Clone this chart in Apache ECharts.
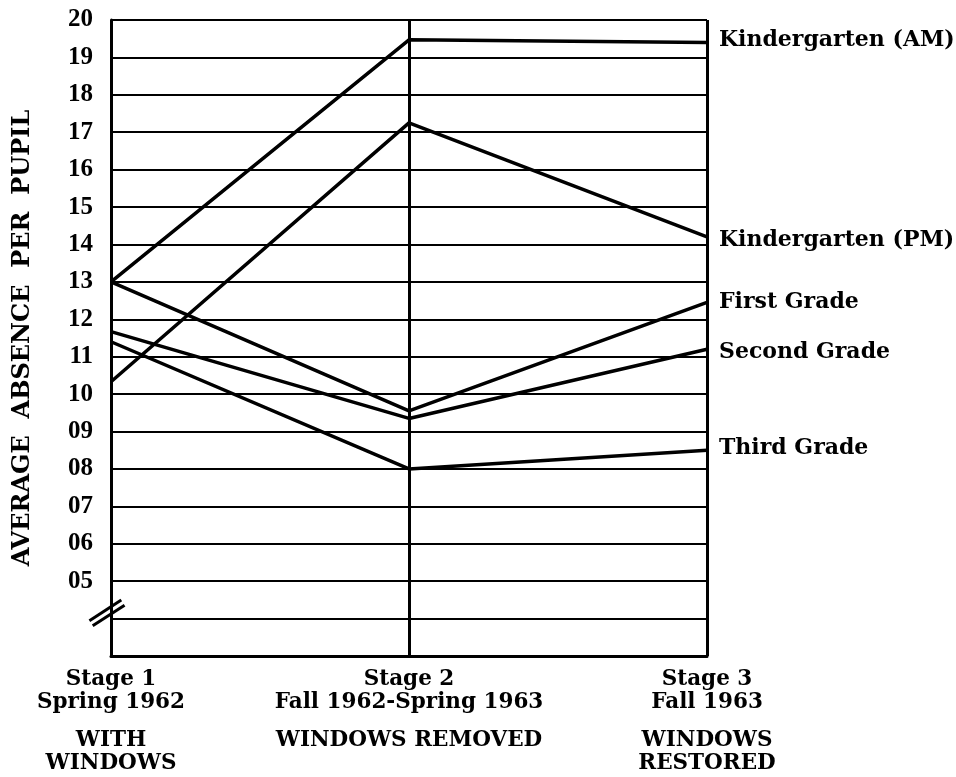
<!DOCTYPE html>
<html>
<head>
<meta charset="utf-8">
<script src="https://cdn.jsdelivr.net/npm/echarts@6/dist/echarts.min.js"></script>
<style>
  html, body { margin: 0; padding: 0; background: #fff; }
  #chart { width: 956px; height: 777px; }
</style>
</head>
<body>
<div id="chart"></div>
<script>
// Stages of the study (x categories) and their caption lines
const stages = ['Stage 1', 'Stage 2', 'Stage 3'];
const periods = ['Spring 1962', 'Fall 1962-Spring 1963', 'Fall 1963'];
const conditions = [['WITH', 'WINDOWS'], ['WINDOWS REMOVED'], ['WINDOWS', 'RESTORED']];

// Average absence per pupil for each class group
const kinderAM = [13.0, 19.47, 19.4];
const kinderPM = [10.33, 17.25, 14.2];
const firstGrade = [13.0, 9.55, 12.45];
const secondGrade = [11.67, 9.35, 11.2];
const thirdGrade = [11.4, 8.0, 8.5];

// Y-axis tick labels (values 5..20), shown zero-padded
const yTickValues = [5, 6, 7, 8, 9, 10, 11, 12, 13, 14, 15, 16, 17, 18, 19, 20];
const yTickLabels = ['05', '06', '07', '08', '09', '10', '11', '12', '13', '14', '15', '16', '17', '18', '19', '20'];

const seriesDefs = [
  { name: 'Kindergarten (AM)', data: kinderAM, dy: -2 },
  { name: 'Kindergarten (PM)', data: kinderPM, dy: 3 },
  { name: 'First Grade', data: firstGrade, dy: 0 },
  { name: 'Second Grade', data: secondGrade, dy: 3 },
  { name: 'Third Grade', data: thirdGrade, dy: -2 }
];

const serif = '"DejaVu Serif", "Liberation Serif", serif';
const ink = '#000';

const chart = echarts.init(document.getElementById('chart'), null, { renderer: 'canvas' });

const option = {
  backgroundColor: '#fff',
  animation: false,
  grid: { left: 111, right: 249, top: 20, bottom: 121, containLabel: false, outerBoundsMode: 'none' },
  xAxis: {
    type: 'category',
    data: stages,
    boundaryGap: false,
    axisLine: { show: true, lineStyle: { color: ink, width: 3 } },
    axisTick: { show: false },
    splitLine: { show: true, lineStyle: { color: ink, width: 3 } },
    axisLabel: {
      margin: 12,
      color: ink,
      formatter: function (value, idx) {
        const lines = ['{t|' + stages[idx] + '}', '{t|' + periods[idx] + '}', '{sp| }'];
        conditions[idx].forEach(function (c) { lines.push('{t|' + c + '}'); });
        return lines.join('\n');
      },
      rich: {
        t: { fontFamily: serif, fontWeight: 'bold', fontSize: 21.5, lineHeight: 23, color: ink },
        sp: { fontSize: 10, lineHeight: 15 }
      }
    }
  },
  yAxis: [
    {
      type: 'value',
      min: 3,
      max: 20,
      interval: 1,
      name: 'AVERAGE  ABSENCE  PER  PUPIL',
      nameLocation: 'middle',
      nameGap: 76,
      nameTextStyle: { fontFamily: serif, fontWeight: 'bold', fontSize: 24, color: ink },
      axisLine: { show: true, lineStyle: { color: ink, width: 3 } },
      axisTick: { show: false },
      splitLine: { show: true, lineStyle: { color: ink, width: 2 } },
      axisLabel: {
        margin: 18,
        color: ink,
        fontFamily: '"Liberation Serif", serif',
        fontWeight: 'bold',
        fontSize: 25,
        formatter: function (v) {
          const i = yTickValues.indexOf(v);
          return i >= 0 ? yTickLabels[i] : '';
        }
      }
    }
  ],
  series: seriesDefs.map(function (s) {
    return {
      name: s.name,
      type: 'line',
      data: s.data,
      symbol: 'none',
      lineStyle: { color: ink, width: 3.5 },
      z: 5,
      endLabel: {
        show: true,
        formatter: '{a}',
        distance: 12,
        offset: [0, s.dy],
        fontFamily: serif,
        fontWeight: 'bold',
        fontSize: 22,
        color: ink
      }
    };
  })
};

chart.setOption(option);

// Axis-break mark ("//") on the left axis just below 05
const brk = chart.convertToPixel({ gridIndex: 0 }, [stages[0], 4.15]);
chart.setOption({
  graphic: [
    {
      type: 'group',
      x: brk[0] - 4,
      y: brk[1],
      rotation: Math.PI * 33 / 180,
      z: 10,
      children: [
        { type: 'line', shape: { x1: -19, y1: -3, x2: 19, y2: -3 }, style: { stroke: ink, lineWidth: 3 } },
        { type: 'line', shape: { x1: -19, y1: 3, x2: 19, y2: 3 }, style: { stroke: ink, lineWidth: 3 } }
      ]
    }
  ]
});
</script>
</body>
</html>
